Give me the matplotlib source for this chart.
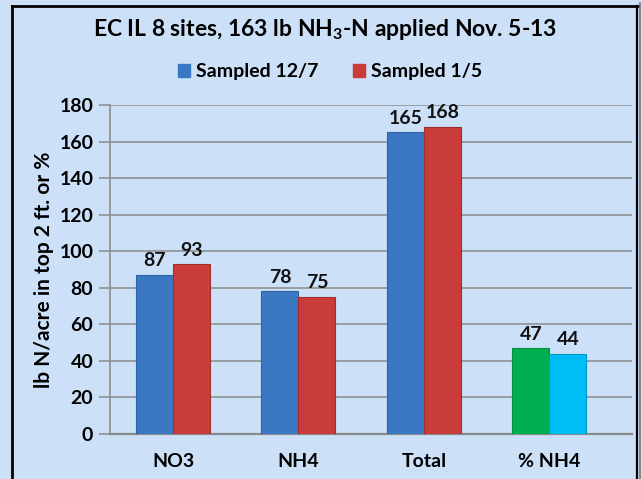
import matplotlib
matplotlib.use("Agg")
import matplotlib.pyplot as plt
from matplotlib.lines import Line2D
import numpy as np

categories = ["NO3", "NH4", "Total", "% NH4"]
sampled_12_7 = [87, 78, 165, 47]
sampled_1_5 = [93, 75, 168, 44]
series_names = ["Sampled 12/7", "Sampled 1/5"]
yticks = [0, 20, 40, 60, 80, 100, 120, 140, 160, 180]

bg = "#CCE0F8"
blue = "#3B78C3"
red = "#C93C3A"
green = "#00B050"
cyan = "#00BDF6"

plt.rcParams['font.family'] = ['Lato', 'DejaVu Sans']
plt.rcParams['mathtext.fontset'] = 'custom'
plt.rcParams['mathtext.rm'] = 'Lato'
plt.rcParams['mathtext.bf'] = 'Lato:bold'

fig = plt.figure(figsize=(6.42, 4.79), dpi=100)
fig.patch.set_facecolor(bg)
ax = fig.add_axes([110/642, 45/479, (632-110)/642, (434-105)/479])
ax.set_facecolor(bg)

x = np.arange(len(categories))
w = 0.295
c1 = [blue, blue, blue, green]
c2 = [red, red, red, cyan]
ax.bar(x - w/2, sampled_12_7, w, color=c1, edgecolor=["#2F62A0"]*3 + ["#009040"], linewidth=0.8, zorder=3)
ax.bar(x + w/2, sampled_1_5, w, color=c2, edgecolor=["#A02E2C"]*3 + ["#0098C8"], linewidth=0.8, zorder=3)

for i in range(len(categories)):
    ax.text(x[i] - w/2, sampled_12_7[i] + 3, str(sampled_12_7[i]), ha='center', va='bottom',
            fontsize=14, fontweight='bold', color='#111111')
    ax.text(x[i] + w/2, sampled_1_5[i] + 3, str(sampled_1_5[i]), ha='center', va='bottom',
            fontsize=14, fontweight='bold', color='#111111')

ax.set_xlim(-0.503, 3.66)
ax.set_ylim(0, 180)
ax.set_yticks(yticks)
ax.yaxis.grid(True, color='#8A8A8A', linewidth=1.1, zorder=0)
ax.set_axisbelow(True)
for s in ['top', 'right']:
    ax.spines[s].set_visible(False)
ax.spines['left'].set_color('#8A8A8A')
ax.spines['bottom'].set_color('#8A8A8A')
ax.spines['left'].set_linewidth(1.2)
ax.spines['bottom'].set_linewidth(1.6)
ax.tick_params(axis='y', length=8, width=1.1, color='#8A8A8A', labelsize=14, pad=4)
ax.tick_params(axis='x', length=0, labelsize=14, pad=14)
ax.set_xticks(x)
ax.set_xticklabels(categories, fontweight='bold')
for lab in ax.get_yticklabels():
    lab.set_fontweight('bold')
ax.set_ylabel("lb N/acre in top 2 ft. or %", fontsize=15, fontweight='bold', labelpad=4)

fig.text(325/642, 1 - 30/479, r"EC IL 8 sites, 163 lb NH$_\mathbf{3}$-N applied Nov. 5-13",
         ha='center', va='center', fontsize=16.5, fontweight='bold')

handles = [plt.Rectangle((0, 0), 1, 1, color=blue), plt.Rectangle((0, 0), 1, 1, color=red)]
fig.legend(handles, series_names, loc='center', bbox_to_anchor=(330/642, 1 - 72/479), ncol=2,
           frameon=False, prop={'size': 14, 'weight': 'bold'}, handlelength=0.6, handleheight=0.6,
           handletextpad=0.3, columnspacing=1.8)

# outer frame
fig.add_artist(Line2D([12/642, 12/642], [0, 1 - 6/479], color='black', lw=2, transform=fig.transFigure))
fig.add_artist(Line2D([12/642, 638/642], [1 - 6/479, 1 - 6/479], color='black', lw=2, transform=fig.transFigure))
fig.add_artist(Line2D([637/642, 637/642], [0, 1 - 6/479], color='black', lw=1.6, transform=fig.transFigure))
fig.add_artist(Line2D([640/642, 640/642], [0, 1 - 3/479], color='#777777', lw=1.2, transform=fig.transFigure))

fig.savefig("out.png", dpi=100, facecolor=bg)
